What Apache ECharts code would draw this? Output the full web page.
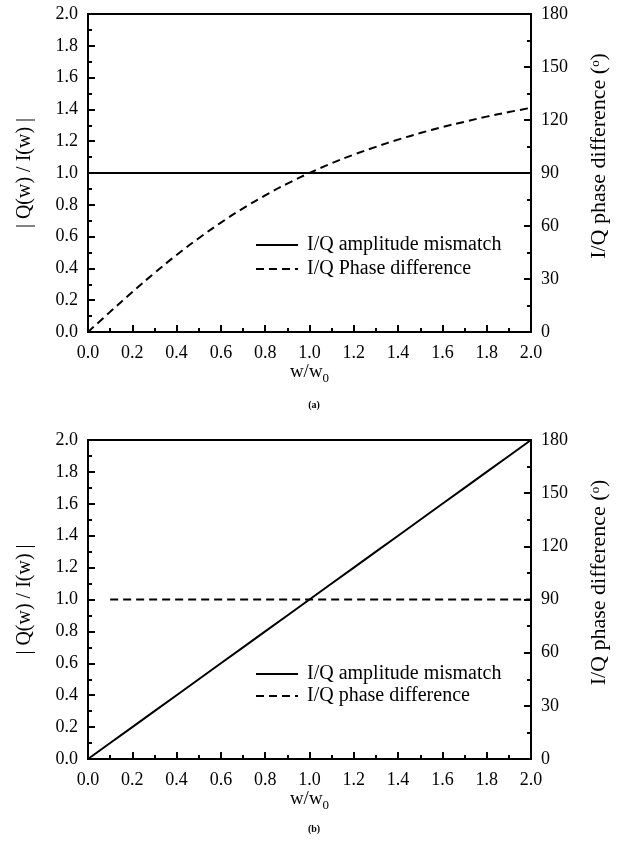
<!DOCTYPE html>
<html>
<head>
<meta charset="utf-8">
<script src="https://cdn.jsdelivr.net/npm/echarts@6/dist/echarts.min.js"></script>
<style>
  html, body { margin: 0; padding: 0; background: #fff; }
  #chart { width: 618px; height: 852px; }
</style>
</head>
<body>
<div id="chart"></div>
<script>
// w/w0 sample points
const wValues = [0.0, 0.1, 0.2, 0.3, 0.4, 0.5, 0.6, 0.7, 0.8, 0.9, 1.0,
                 1.1, 1.2, 1.3, 1.4, 1.5, 1.6, 1.7, 1.8, 1.9, 2.0]

// (a) amplitude mismatch stays flat, phase difference bends over
const ampA = [1.0, 1.0, 1.0, 1.0, 1.0, 1.0, 1.0, 1.0, 1.0, 1.0, 1.0,
              1.0, 1.0, 1.0, 1.0, 1.0, 1.0, 1.0, 1.0, 1.0, 1.0]
const phaseA = [0, 11.4, 22.6, 33.4, 43.6, 53.1, 61.9, 70.0, 77.3, 84.0, 90.0,
                95.5, 100.4, 104.8, 108.9, 112.6, 116.0, 119.0, 121.9, 124.5, 126.9]

// (b) amplitude grows linearly, phase difference fixed at 90
const ampB = [0.0, 0.1, 0.2, 0.3, 0.4, 0.5, 0.6, 0.7, 0.8, 0.9, 1.0,
              1.1, 1.2, 1.3, 1.4, 1.5, 1.6, 1.7, 1.8, 1.9, 2.0]
const phaseBx = [0.1, 2.0]
const phaseB = [90, 90]

const leftTicks = [0, 2, 0.2]
const rightTicks = [0, 180, 30]

const font = 'Liberation Serif'
const black = '#000'

const chart = echarts.init(document.getElementById('chart'))

function pairs(xs, ys) {
  return xs.map((x, i) => [x, ys[i]])
}

const tickStyle = { color: black, width: 2 }

function xAxis(gridIndex) {
  return {
    type: 'value', gridIndex, min: 0, max: 2, interval: 0.2,
    name: 'w/w{sub|0}', nameLocation: 'middle', nameGap: 28,
    nameTextStyle: {
      fontFamily: font, fontSize: 19, color: black,
      rich: { sub: { fontFamily: font, fontSize: 13, color: black, padding: [12, 0, 0, 0] } }
    },
    axisLine: { show: true, lineStyle: tickStyle },
    axisTick: { show: true, inside: true, length: 7, lineStyle: tickStyle },
    minorTick: { show: true, splitNumber: 2, length: 4, lineStyle: tickStyle },
    axisLabel: { fontFamily: font, fontSize: 18, color: black, margin: 12, formatter: v => v.toFixed(1) },
    splitLine: { show: false }
  }
}

function leftAxis(gridIndex) {
  return {
    type: 'value', gridIndex, position: 'left',
    min: leftTicks[0], max: leftTicks[1], interval: leftTicks[2],
    name: '| Q(w) / I(w) |', nameLocation: 'middle', nameGap: 53, nameRotate: 90,
    nameTextStyle: { fontFamily: font, fontSize: 20, color: black },
    axisLine: { show: true, lineStyle: tickStyle },
    axisTick: { show: true, inside: true, length: 7, lineStyle: tickStyle },
    minorTick: { show: true, splitNumber: 2, length: 4, lineStyle: tickStyle },
    axisLabel: { fontFamily: font, fontSize: 18, color: black, margin: 10, formatter: v => v.toFixed(1) },
    splitLine: { show: false }
  }
}

function rightAxis(gridIndex) {
  return {
    type: 'value', gridIndex, position: 'right',
    min: rightTicks[0], max: rightTicks[1], interval: rightTicks[2],
    name: 'I/Q phase difference (ᵒ)', nameLocation: 'middle', nameGap: 57, nameRotate: 90,
    nameTextStyle: { fontFamily: font, fontSize: 22, color: black, padding: [0, 0, 0, 34] },
    axisLine: { show: true, lineStyle: tickStyle },
    axisTick: { show: true, inside: true, length: 7, lineStyle: tickStyle },
    minorTick: { show: true, splitNumber: 2, length: 4, lineStyle: tickStyle },
    axisLabel: { fontFamily: font, fontSize: 18, color: black, margin: 10 },
    splitLine: { show: false }
  }
}

const solid = { color: black, width: 2, type: 'solid' }
const dashed = { color: black, width: 2, type: [8, 5] }

function legend(id, names, top, gap) {
  return {
    id, data: names, left: 250, top, orient: 'vertical',
    itemWidth: 42, itemHeight: 14, itemGap: gap, selectedMode: false,
    itemStyle: { opacity: 0 },
    textStyle: { fontFamily: font, fontSize: 20, color: black, padding: [0, 0, 0, 4] }
  }
}

const option = {
  animation: false,
  backgroundColor: '#fff',
  title: [
    { text: '(a)', left: 309, top: 395, textAlign: 'center',
      textStyle: { fontFamily: font, fontSize: 10, fontWeight: 'bold', color: black } },
    { text: '(b)', left: 309, top: 819, textAlign: 'center',
      textStyle: { fontFamily: font, fontSize: 10, fontWeight: 'bold', color: black } }
  ],
  grid: [
    { left: 88, right: 87, top: 14, height: 318, outerBoundsMode: 'none',
      show: true, borderColor: black, borderWidth: 2 },
    { left: 88, right: 87, top: 440, height: 319, outerBoundsMode: 'none',
      show: true, borderColor: black, borderWidth: 2 }
  ],
  legend: [
    legend('legA', ['I/Q amplitude mismatch', 'I/Q Phase difference'], 230, 4),
    legend('legB', ['I/Q amplitude mismatch', 'I/Q phase difference'], 659, 2)
  ],
  xAxis: [xAxis(0), xAxis(1)],
  yAxis: [leftAxis(0), rightAxis(0), leftAxis(1), rightAxis(1)],
  series: [
    { name: 'I/Q amplitude mismatch', type: 'line', xAxisIndex: 0, yAxisIndex: 0,
      data: pairs(wValues, ampA), symbol: 'none', lineStyle: solid, itemStyle: { color: black } },
    { name: 'I/Q Phase difference', type: 'line', xAxisIndex: 0, yAxisIndex: 1, smooth: true,
      data: pairs(wValues, phaseA), symbol: 'none', lineStyle: dashed, itemStyle: { color: black } },
    { name: 'I/Q amplitude mismatch', type: 'line', xAxisIndex: 1, yAxisIndex: 2,
      data: pairs(wValues, ampB), symbol: 'none', lineStyle: solid, itemStyle: { color: black } },
    { name: 'I/Q phase difference', type: 'line', xAxisIndex: 1, yAxisIndex: 3,
      data: pairs(phaseBx, phaseB), symbol: 'none', lineStyle: dashed, itemStyle: { color: black } }
  ]
}

chart.setOption(option)
</script>
</body>
</html>
